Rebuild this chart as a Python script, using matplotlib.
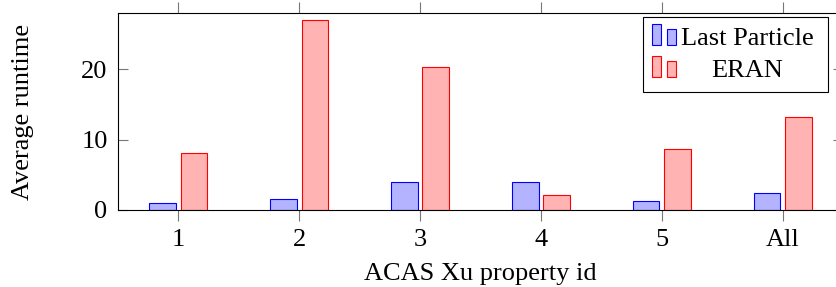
import matplotlib
matplotlib.use("Agg")
import matplotlib.pyplot as plt
import numpy as np
from matplotlib.patches import Rectangle

# data
properties = ["1", "2", "3", "4", "5", "All"]
last_particle = [1.0, 1.5, 4.05, 4.05, 1.3, 2.4]
eran = [8.1, 26.95, 20.3, 2.1, 8.65, 13.2]
series_names = ["Last Particle", "ERAN"]
y_ticks = [0, 10, 20]

W, H = 836, 287
plt.rcParams["font.family"] = ["Liberation Serif", "DejaVu Serif"]
plt.rcParams["font.size"] = 19

fig = plt.figure(figsize=(W / 100, H / 100), dpi=100)
left, right, top, bottom = 118, 843, 13, 210
ax = fig.add_axes([left / W, 1 - bottom / H, (right - left) / W, (bottom - top) / H])

x = np.arange(1, len(properties) + 1)
bw = 0.22
off = 0.13
fills = ["#b3b3ff", "#ffb3b3"]
edges = ["blue", "red"]
ax.bar(x - off, last_particle, bw, color=fills[0], edgecolor=edges[0], linewidth=0.8, zorder=2)
ax.bar(x + off, eran, bw, color=fills[1], edgecolor=edges[1], linewidth=0.8, zorder=2)

ax.set_xlim(0.5, 6.5)
ax.set_ylim(0, 28)
ax.set_xticks(x)
ax.set_xticklabels(properties)
ax.set_yticks(y_ticks)
ax.tick_params(axis="x", direction="out", length=8, width=0.8, color="#777777", pad=6, top=True)
ax.tick_params(axis="y", direction="in", length=7.5, width=0.8, color="#777777", pad=7.5, right=True)
for s in ax.spines.values():
    s.set_linewidth(0.8)
    s.set_zorder(3)

ax.set_xlabel("ACAS Xu property id")
ax.xaxis.set_label_coords(0.5, (bottom - 263) / (bottom - top))
ax.set_ylabel("Average runtime")
ax.yaxis.set_label_coords((34 - left) / (right - left), 0.5)


# pgfplots-style legend: two little bars per entry, centred text
def fxy(px, py):
    return px / W, 1 - py / H


fig.add_artist(Rectangle(fxy(643, 92), (828 - 643) / W, (92 - 17) / H, transform=fig.transFigure,
                         facecolor="white", edgecolor="black", lw=0.8, zorder=5))
for i, name in enumerate(series_names):
    base = 45 + i * 32
    for bx, bh in [(652, 21), (667, 16)]:
        fig.add_artist(Rectangle(fxy(bx, base), 8.5 / W, bh / H, transform=fig.transFigure,
                                 facecolor=fills[i], edgecolor=edges[i], lw=0.8, zorder=6))
    fig.text(*fxy(747.5, base), name, ha="center", va="baseline", zorder=6)

fig.savefig("out.png", dpi=100)
